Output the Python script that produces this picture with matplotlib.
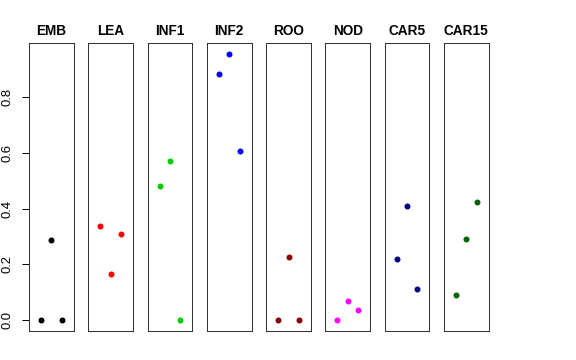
import matplotlib
matplotlib.use("Agg")
import matplotlib.pyplot as plt
import numpy as np

plt.rcParams["font.family"] = ["Liberation Sans", "DejaVu Sans"]

# one panel per tissue, three replicates each
tissues = ["EMB", "LEA", "INF1", "INF2", "ROO", "NOD", "CAR5", "CAR15"]
colors = ["black", "#FF0000", "#00CD00", "#0000FF", "#8B0000", "#FF00FF", "#000080", "#006400"]
replicates = [1, 2, 3]
values = [
    [0.000, 0.287, 0.000],
    [0.338, 0.165, 0.309],
    [0.482, 0.570, 0.000],
    [0.881, 0.955, 0.607],
    [0.000, 0.227, 0.000],
    [0.000, 0.069, 0.037],
    [0.220, 0.408, 0.114],
    [0.092, 0.291, 0.424],
]
yticks = [0.0, 0.2, 0.4, 0.6, 0.8]

W, H = 576, 360
fig = plt.figure(figsize=(W / 72, H / 72), dpi=72)

ymax = max(max(v) for v in values)
ylim = (-0.04 * ymax, ymax * 1.04)
xlim = (0 - 0.16, 4 + 0.16)

left0, pitch, width = 29.0, 59.28, 44.8
bottom, top = 331.0, 43.0

for i, (name, col, vals) in enumerate(zip(tissues, colors, values)):
    ax = fig.add_axes([(left0 + i * pitch) / W, (H - bottom) / H,
                       width / W, (bottom - top) / H])
    ax.plot(replicates, vals, "o", color=col, ms=6, mec="none")
    ax.set_xlim(*xlim)
    ax.set_ylim(*ylim)
    ax.set_xticks([])
    for sp in ax.spines.values():
        sp.set_color("#333333")
        sp.set_linewidth(1)
    ax.set_title(name, fontsize=13.6, fontweight="bold", pad=8)
    if i == 0:
        ax.set_yticks(yticks)
        ax.set_yticklabels([f"{t:.1f}" for t in yticks])
        ax.tick_params(axis="y", length=7, pad=8, labelsize=13, width=1)
        for lab in ax.get_yticklabels():
            lab.set_rotation(90)
            lab.set_va("center")
    else:
        ax.set_yticks([])

fig.savefig("out.png", dpi=72)
